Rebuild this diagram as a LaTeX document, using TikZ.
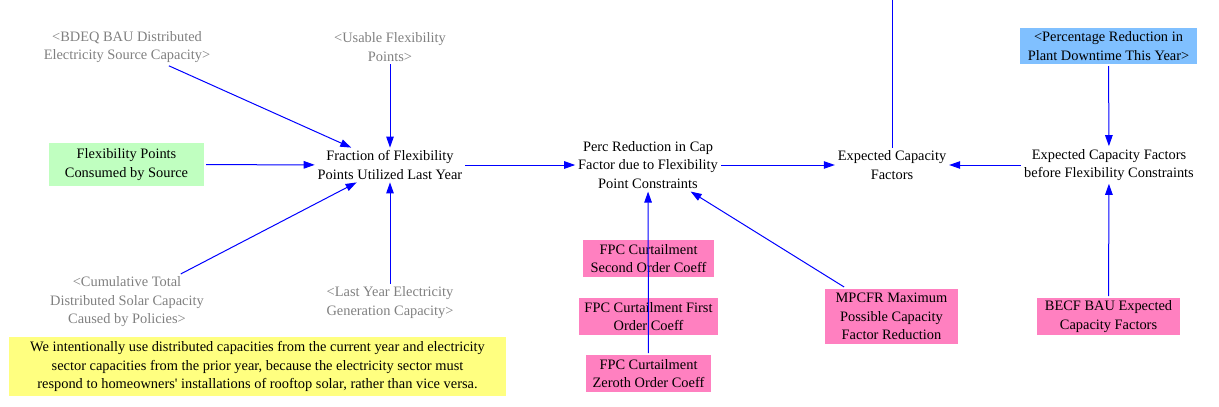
\documentclass[tikz,border=0pt]{standalone}
\usepackage{fontspec}
\setmainfont{Liberation Serif}
\usetikzlibrary{arrows.meta}
\definecolor{c0000ff}{RGB}{0,0,255}
\definecolor{c808080}{RGB}{128,128,128}
\definecolor{cc0ffc0}{RGB}{192,255,192}
\definecolor{c80c0ff}{RGB}{128,192,255}
\definecolor{cff80c0}{RGB}{255,128,192}
\definecolor{cffff80}{RGB}{255,255,128}
\def \globalscale {1.000000}
\tikzset{
  var/.style={align=center, inner sep=1pt, outer sep=2pt, font=\fontsize{14.4}{18.5}\selectfont},
  shadowvar/.style={var, text=c808080},
  boxvar/.style={var, fill=#1, inner sep=0pt},
  link/.style={draw=c0000ff, line width=1pt, -{Triangle[length=11pt,width=7.5pt]}},
  plainlink/.style={draw=c0000ff, line width=1pt}
}

\begin{document}
\begin{tikzpicture}[y=-1pt, x=1pt, yscale=\globalscale, xscale=\globalscale, every node/.append style={scale=\globalscale}]
  \useasboundingbox (0, 0) rectangle (1219, 407);



  \node[shadowvar] (bdeq) at (127, 47){<BDEQ BAU Distributed\\Electricity Source Capacity>};



  \node[shadowvar] (usable) at (390, 47){<Usable Flexibility\\Points>};



  \node[boxvar=cc0ffc0, minimum width=155pt, minimum height=43pt] (consumed) at (126.5, 164.5){Flexibility Points\\Consumed by Source};



  \node[var] (fraction) at (390, 165){Fraction of Flexibility\\Points Utilized Last Year};



  \node[var] (percred) at (648, 165){Perc Reduction in Cap\\Factor due to Flexibility\\Point Constraints};



  \node[var] (expcap) at (892, 165){Expected Capacity\\Factors};



  \node[var] (expbefore) at (1109, 165){Expected Capacity Factors\\before Flexibility Constraints};



  \node[boxvar=c80c0ff, minimum width=177pt, minimum height=36pt] (downtime) at (1108.5, 46){<Percentage Reduction in\\Plant Downtime This Year>};



  \node[boxvar=cff80c0, minimum width=143pt, minimum height=37pt] (becf) at (1108.5, 316.5){BECF BAU Expected\\Capacity Factors};



  \node[boxvar=cff80c0, minimum width=131pt, minimum height=37pt] (fpcsecond) at (648.5, 258.5){FPC Curtailment\\Second Order Coeff};



  \node[boxvar=cff80c0, minimum width=139pt, minimum height=37pt] (fpcfirst) at (648.5, 316.5){FPC Curtailment First\\Order Coeff};



  \node[boxvar=cff80c0, minimum width=125pt, minimum height=37pt] (fpczeroth) at (648.5, 373.5){FPC Curtailment\\Zeroth Order Coeff};



  \node[boxvar=cff80c0, minimum width=133pt, minimum height=55pt] (mpcfr) at (891.5, 316.5){MPCFR Maximum\\Possible Capacity\\Factor Reduction};



  \node[shadowvar] (cumsolar) at (127, 302){<Cumulative Total\\Distributed Solar Capacity\\Caused by Policies>};



  \node[shadowvar] (lastyear) at (390, 302.5){<Last Year Electricity\\Generation Capacity>};



  \node[boxvar=cffff80, minimum width=497pt, minimum height=59pt] (note) at (257.5, 366.5){We intentionally use distributed capacities from the current year and electricity\\sector capacities from the prior year, because the electricity sector must\\respond to homeowners\textquotesingle{} installations of rooftop solar, rather than vice versa.};



  \coordinate (expout) at (892, 0);



  \path[link] (bdeq) -- (fraction);
  \path[link] (usable) -- (fraction);
  \path[link] (consumed) -- (fraction);
  \path[link] (cumsolar) -- (fraction);
  \path[link] (lastyear) -- (fraction);
  \path[link] (fraction) -- (percred);
  \path[link] (fpczeroth) -- (percred);
  \path[link] (mpcfr) -- (percred);
  \path[link] (percred) -- (expcap);
  \path[link] (expbefore) -- (expcap);
  \path[link] (downtime) -- (expbefore);
  \path[link] (becf) -- (expbefore);
  \path[plainlink] (expcap) -- (expout);

\end{tikzpicture}
\end{document}
